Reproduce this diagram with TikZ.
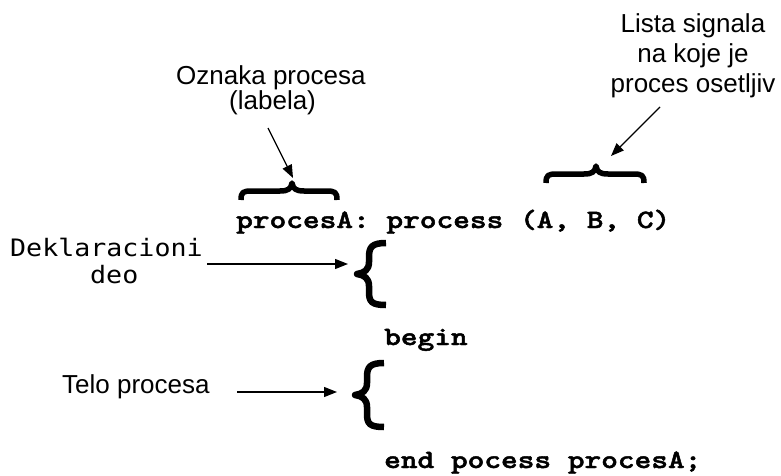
\documentclass[tikz,border=0pt]{standalone}
\usepackage{fontspec}
\usepackage{graphicx}
\setmainfont{Liberation Sans}
\newfontfamily\dejamono{DejaVu Sans Mono}
\newfontfamily\codefont{Latin Modern Mono Light}[FakeBold=1.6]
\usetikzlibrary{arrows.meta}
\newcommand\codetxt[1]{\scalebox{1.2}[1]{#1}}
\tikzset{
  lbl/.style={inner sep=0pt, font=\fontsize{26}{29}\selectfont},
  code/.style={inner sep=0pt, anchor=base west, font=\codefont\bfseries\fontsize{26.5}{30}\selectfont},
  dek/.style={inner sep=0pt, anchor=base west, font=\dejamono\fontsize{24}{28}\selectfont},
  ptr/.style={line width=1.3pt, -{Triangle[length=13pt,width=10pt]}},
  bracestroke/.style={line width=5.5pt, line cap=butt, line join=round}
}
\begin{document}
\begin{tikzpicture}[x=1pt,y=-1pt]
\useasboundingbox (0,0) rectangle (781,476);
% code lines
\node[code] (code1) at (236,228) {\codetxt{procesA: process (A, B, C)}};
\node[code] (code2) at (384,345) {\codetxt{begin}};
\node[code] (code3) at (384,468) {\codetxt{end pocess procesA;}};
% labels
\node[lbl, anchor=base west] (oz1) at (176,85) {Oznaka procesa};
\node[lbl, anchor=base west] (oz2) at (229,110) {(labela)};
\node[lbl, anchor=base] (li1) at (693,33) {Lista signala};
\node[lbl, anchor=base] (li2) at (693,63) {na koje je};
\node[lbl, anchor=base] (li3) at (693,93) {proces osetljiv};
\node[dek] (dek1) at (10,256) {\scalebox{1.11}[1]{Deklaracioni}};
\node[dek] (dek2) at (90,283) {\scalebox{1.11}[1]{deo}};
\node[lbl, anchor=base west] (telo) at (62,393) {Telo procesa};
% horizontal braces
\draw[bracestroke] (241,200) .. controls (241,192) and (243,191) .. (252,191) -- (280,191) .. controls (288,191) and (291,189) .. (292,183) .. controls (293,189) and (296,191) .. (304,191) -- (326,191) .. controls (335,191) and (337,192) .. (337,200);
\draw[bracestroke] (546,183) .. controls (546,175) and (548,174) .. (557,174) -- (584,174) .. controls (592,174) and (595,172) .. (596,166) .. controls (597,172) and (600,174) .. (608,174) -- (633,174) .. controls (642,174) and (644,175) .. (644,183);
% vertical braces
\draw[bracestroke, line width=6.5pt] (386,243) .. controls (372,243) and (369,247) .. (369,257) -- (369,262) .. controls (369,270) and (364,273) .. (357,274) .. controls (364,275) and (369,278) .. (369,286) -- (369,292) .. controls (369,302) and (372,305) .. (386,305);
\draw[bracestroke, line width=6.5pt] (384,363) .. controls (370,363) and (367,367) .. (367,377) -- (367,383) .. controls (367,391) and (362,394) .. (355,395) .. controls (362,396) and (367,399) .. (367,407) -- (367,414) .. controls (367,424) and (370,427) .. (384,427);
% arrow end points
\coordinate (ozs) at (268,128);
\coordinate (ozt) at (293,178);
\coordinate (lis) at (660,107);
\coordinate (lit) at (611,156);
\coordinate (dks) at (207,264);
\coordinate (dkt) at (348,264);
\coordinate (tls) at (237,392);
\coordinate (tlt) at (337,392);
\draw[ptr] (ozs) -- (ozt);
\draw[ptr] (lis) -- (lit);
\draw[ptr] (dks) -- (dkt);
\draw[ptr] (tls) -- (tlt);
\end{tikzpicture}
\end{document}
